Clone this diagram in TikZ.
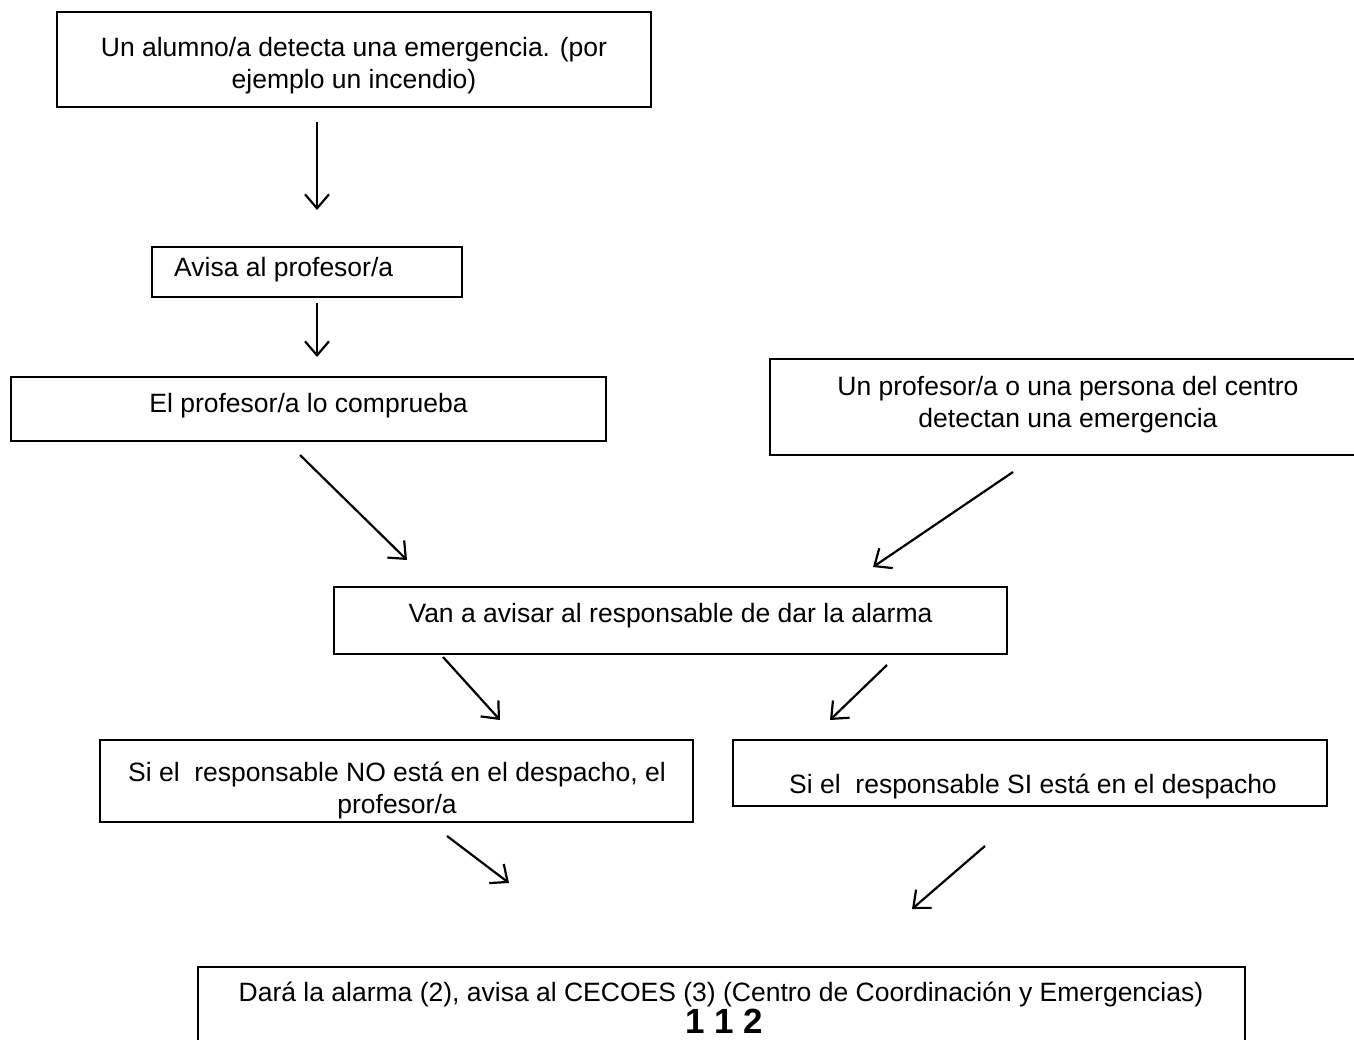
\documentclass[tikz,border=0pt]{standalone}
\usepackage{fontspec}
\setmainfont{Liberation Sans}
\usetikzlibrary{arrows.meta}
\begin{document}
\begin{tikzpicture}[x=1pt,y=-1pt,
  box/.style={draw=black, line width=2.2pt, rectangle, inner sep=0pt},
  txt/.style={inner sep=0pt, align=center, font=\fontsize{26.5}{32}\selectfont},
  arr/.style={line width=2.2pt, -{Straight Barb[length=14pt,width=24pt,line width=2.2pt]}}]
\clip (0,0) rectangle (1354,1039);
\fill[white] (0,0) rectangle (1354,1039);
% boxes
\node[box, minimum width=594pt, minimum height=95pt] (b1) at (354,59.5) {};
\node[txt] (t1) at (354,66) {Un alumno/a detecta una emergencia. (por\\ejemplo un incendio)};
\node[box, minimum width=310pt, minimum height=50pt] (b2) at (307,272) {};
\node[txt, anchor=west] (t2) at (174,270) {Avisa al profesor/a};
\node[box, minimum width=595pt, minimum height=64pt] (b3) at (308.5,409) {};
\node[txt] (t3) at (308.5,406) {El profesor/a lo comprueba};
\node[box, minimum width=620pt, minimum height=96pt] (b4) at (1080,407) {};
\node[txt] (t4) at (1068,405) {Un profesor/a o una persona del centro\\detectan una emergencia};
\node[box, minimum width=673pt, minimum height=67pt] (b5) at (670.5,620.5) {};
\node[txt] (t5) at (670.5,616) {Van a avisar al responsable de dar la alarma};
\node[box, minimum width=593pt, minimum height=82pt] (b6) at (396.5,781) {};
\node[txt] (t6) at (397,790) {Si el \ responsable NO está en el despacho, el\\profesor/a};
\node[box, minimum width=594pt, minimum height=66pt] (b7) at (1030,773) {};
\node[txt] (t7) at (1033,786) {Si el \ responsable SI está en el despacho};
\node[box, minimum width=1047pt, minimum height=140pt] (b8) at (721.5,1037) {};
\node[txt] (t8) at (721,994) {Dará la alarma (2), avisa al CECOES (3) (Centro de Coordinación y Emergencias)};
\node[inner sep=0pt, font=\fontsize{35}{38}\selectfont\bfseries] (t9) at (724,1021) {1 1 2};
% arrow endpoints
\coordinate (a1s) at (317,122); \coordinate (a1e) at (317,210);
\coordinate (a2s) at (317,303); \coordinate (a2e) at (317,357);
\coordinate (a3s) at (300,455); \coordinate (a3e) at (407,560);
\coordinate (a4s) at (1013,472); \coordinate (a4e) at (873,567);
\coordinate (a5s) at (443,657); \coordinate (a5e) at (500,720);
\coordinate (a6s) at (887,665); \coordinate (a6e) at (830,720);
\coordinate (a7s) at (447,836); \coordinate (a7e) at (509,883);
\coordinate (a8s) at (985,846); \coordinate (a8e) at (912,909);
\draw[arr] (a1s) -- (a1e);
\draw[arr] (a2s) -- (a2e);
\draw[arr] (a3s) -- (a3e);
\draw[arr] (a4s) -- (a4e);
\draw[arr] (a5s) -- (a5e);
\draw[arr] (a6s) -- (a6e);
\draw[arr] (a7s) -- (a7e);
\draw[arr] (a8s) -- (a8e);
\end{tikzpicture}
\end{document}
